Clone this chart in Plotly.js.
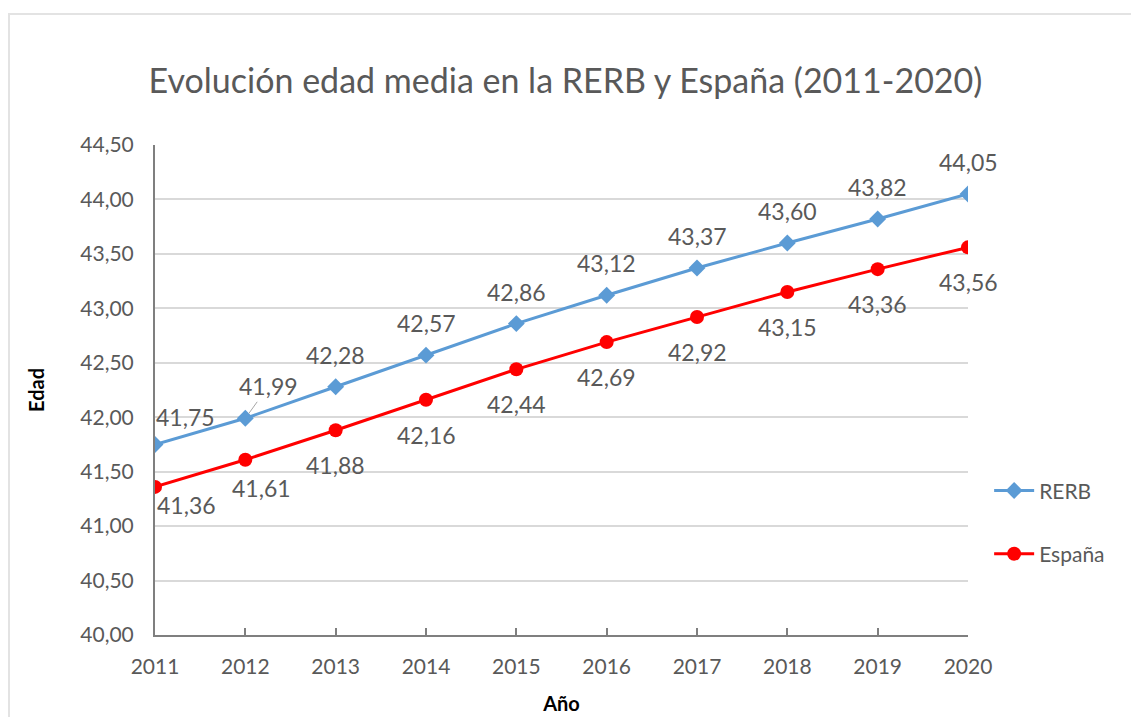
<!DOCTYPE html>
<html><head><meta charset="utf-8">
<script src="https://cdn.plot.ly/plotly-3.0.1.min.js"></script>
<style>
html,body{margin:0;padding:0;background:#fff;}
#frame{position:absolute;left:8px;top:13px;width:1200px;height:800px;border:2px solid #e3e3e3;box-sizing:border-box;}
#chart{position:absolute;left:0;top:0;width:1131px;height:717px;}
</style></head>
<body><div id="frame"></div><div id="chart"></div>
<script>
const years = [2011,2012,2013,2014,2015,2016,2017,2018,2019,2020];
const rerb = [41.75,41.99,42.28,42.57,42.86,43.12,43.37,43.60,43.82,44.05];
const espana = [41.36,41.61,41.88,42.16,42.44,42.69,42.92,43.15,43.36,43.56];
const yTicks = [40.0,40.5,41.0,41.5,42.0,42.5,43.0,43.5,44.0,44.5];

const fmt = v => v.toFixed(2).replace('.', ',');
const font = "Lato, 'Open Sans', sans-serif";
const gray = '#595959';

// label offsets (px) per point
const rerbOff = years.map((y,i)=> i===0 ? [30,27] : (i===1 ? [23,32] : [0,32]));
const espOff = years.map((y,i)=> i===0 ? [31,-18] : (i===1 ? [16,-28] : [0,-35]));

const annotations = [];
years.forEach((yr,i)=>{
  if (i===1) {
    annotations.push({x:yr,y:rerb[i],text:fmt(rerb[i]),showarrow:true,arrowhead:0,arrowwidth:1,arrowcolor:'#a6a6a6',
      ax:rerbOff[i][0],ay:-rerbOff[i][1],standoff:6,font:{family:font,size:23,color:gray}});
  } else {
    annotations.push({x:yr,y:rerb[i],text:fmt(rerb[i]),showarrow:false,xshift:rerbOff[i][0],yshift:rerbOff[i][1],font:{family:font,size:23,color:gray}});
  }
  annotations.push({x:yr,y:espana[i],text:fmt(espana[i]),showarrow:false,xshift:espOff[i][0],yshift:espOff[i][1],font:{family:font,size:23,color:gray}});
});

const traces = [
  {x:years,y:rerb,name:'RERB',mode:'lines+markers',legendgroup:'a',
   line:{color:'#5b9bd5',width:3},marker:{symbol:'diamond',size:13,color:'#5b9bd5'}},
  {x:years,y:espana,name:'España',mode:'lines+markers',legendgroup:'b',
   line:{color:'#ff0000',width:3},marker:{symbol:'circle',size:14,color:'#ff0000'}}
];

const layout = {
  width:1131,height:717,
  paper_bgcolor:'rgba(0,0,0,0)',plot_bgcolor:'#fff',
  margin:{l:155,r:163,t:145,b:82},
  separators:',.',
  showlegend:true,
  title:{text:'Evolución edad media en la RERB y España (2011-2020)',x:0.5,xanchor:'center',y:0.887,yanchor:'middle',
    font:{family:font,size:34,color:gray}},
  xaxis:{range:[2011,2020],tickvals:years,ticktext:years.map(String),showgrid:false,zeroline:false,
    showline:true,linecolor:'#7f7f7f',linewidth:2,ticks:'inside',ticklen:7,tickcolor:'#7f7f7f',tickwidth:2,
    tickfont:{family:font,size:21,color:gray},ticklabelstandoff:12,
    title:{text:'<b>Año</b>',font:{family:font,size:20,color:'#000'},standoff:20}},
  yaxis:{range:[40,44.5],tickvals:yTicks,tickformat:'.2f',showgrid:true,gridcolor:'#d9d9d9',gridwidth:2,zeroline:false,
    showline:true,linecolor:'#7f7f7f',linewidth:2,ticks:'',
    tickfont:{family:font,size:21,color:gray},ticklabelstandoff:15,
    title:{text:'<b>Edad</b>',font:{family:font,size:20,color:'#000'},standoff:30}},
  legend:{x:1.026,xanchor:'left',y:0.23,yanchor:'middle',tracegroupgap:33,itemwidth:40,
    font:{family:font,size:21,color:gray},bgcolor:'rgba(0,0,0,0)'},
  annotations:annotations
};
Plotly.newPlot('chart',traces,layout,{displayModeBar:false,staticPlot:true});
</script></body></html>
